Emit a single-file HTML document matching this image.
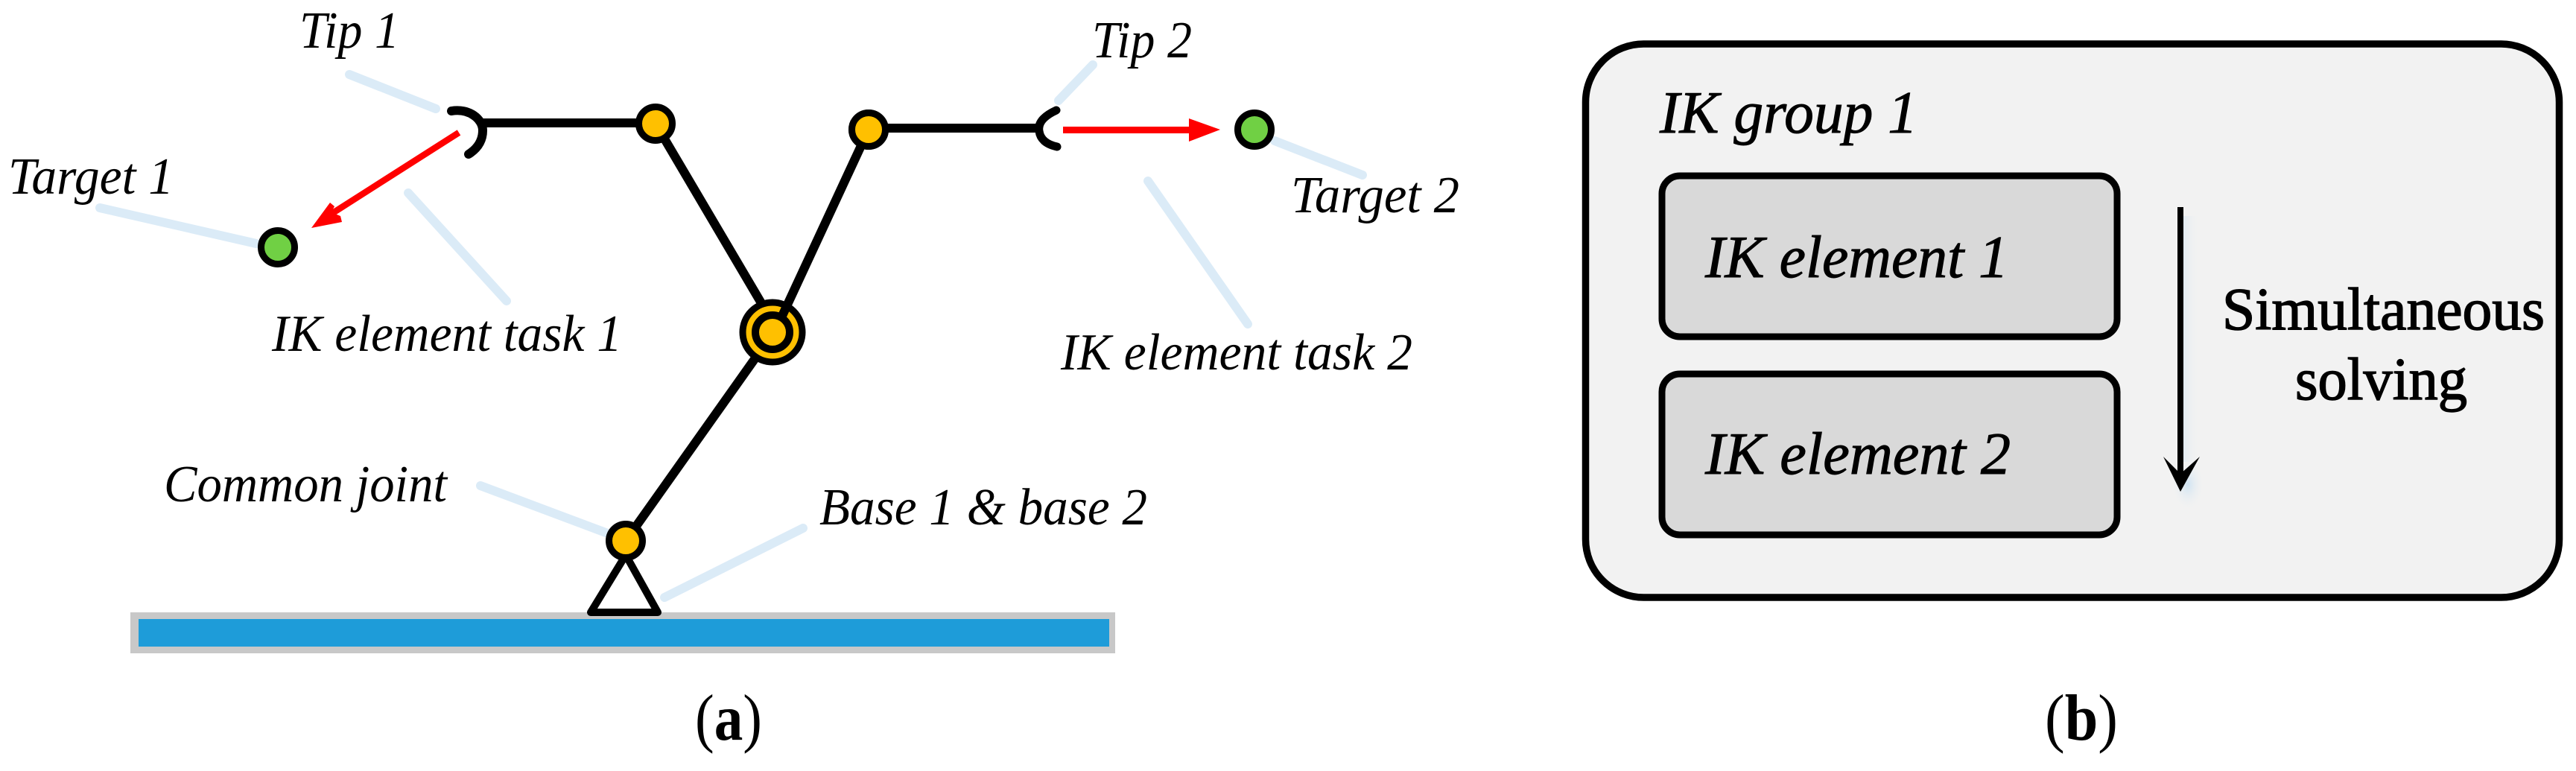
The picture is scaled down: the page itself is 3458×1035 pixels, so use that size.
<!DOCTYPE html>
<html>
<head>
<meta charset="utf-8">
<title>IK diagram</title>
<style>
html,body{margin:0;padding:0;background:#fff;width:3458px;height:1035px;overflow:hidden}
svg{display:block}
text{font-family:"Liberation Serif",serif;fill:#000}
.l{font-style:italic;font-size:70px}
.b{font-style:italic;font-size:80px;stroke:#000;stroke-width:1px}
.s{font-size:80px;stroke:#000;stroke-width:1.5px}
.c{font-size:88px}
</style>
</head>
<body>
<svg width="3458" height="1035" viewBox="0 0 3458 1035" xmlns="http://www.w3.org/2000/svg">
<defs>
<linearGradient id="sh" x1="0" x2="1" y1="0" y2="0"><stop offset="0" stop-color="#dbe8f3" stop-opacity=".7"/><stop offset="1" stop-color="#f2f2f2" stop-opacity="0"/></linearGradient>
<radialGradient id="gl"><stop offset="0" stop-color="#cfe3f3"/><stop offset="1" stop-color="#f2f2f2" stop-opacity="0"/></radialGradient>
</defs>

<!-- leaders -->
<g stroke="#dbebf7" stroke-width="12" stroke-linecap="round" fill="none">
<line x1="469" y1="100" x2="585" y2="146"/>
<line x1="134" y1="279" x2="344" y2="327"/>
<line x1="548" y1="259" x2="680" y2="404"/>
<line x1="1467" y1="87" x2="1421" y2="135"/>
<line x1="1711" y1="189" x2="1829" y2="235"/>
<line x1="1541" y1="243" x2="1675" y2="435"/>
<line x1="645" y1="652" x2="813" y2="715"/>
<line x1="1078" y1="709" x2="892" y2="802"/>
</g>

<!-- ground -->
<rect x="175" y="822" width="1322" height="55" fill="#c8c8c8"/>
<rect x="186" y="831" width="1303" height="37" fill="#1e9cd9"/>

<!-- links -->
<g stroke="#000" stroke-width="12" fill="none">
<line x1="648" y1="165" x2="880" y2="165"/>
<line x1="880" y1="166" x2="1025" y2="412"/>
<line x1="1166" y1="172" x2="1395" y2="172"/>
<line x1="1013" y1="482" x2="840" y2="726"/>
</g>

<!-- base triangle -->
<polygon points="840,745 793,822 883,822" fill="#fff" stroke="#000" stroke-width="10" stroke-linejoin="round"/>

<!-- tips -->
<path d="M606 149 C630 145 648 160 648 175 C648 190 640 200 629 207" fill="none" stroke="#000" stroke-width="12" stroke-linecap="round"/>
<path d="M1418 148 Q1392 160 1395 176 Q1397 192 1419 197" fill="none" stroke="#000" stroke-width="11" stroke-linecap="round"/>

<!-- joints -->
<g stroke="#000" stroke-width="9" fill="#ffc000">
<circle cx="880" cy="166" r="22.5"/>
<circle cx="1166" cy="174" r="22.5"/>
<circle cx="840" cy="726" r="22.5"/>
<circle cx="1037" cy="446" r="40"/>
<circle cx="1037" cy="446" r="23" stroke-width="10"/>
<circle cx="373" cy="332" r="22.5" fill="#70d044"/>
<circle cx="1684" cy="174" r="22.5" fill="#70d044"/>
</g>
<line x1="1166" y1="174" x2="1050" y2="424" stroke="#000" stroke-width="12"/>
<circle cx="1166" cy="174" r="22.5" stroke="#000" stroke-width="9" fill="#ffc000"/>

<!-- red arrows -->
<line x1="616" y1="178" x2="445" y2="287" stroke="#f00" stroke-width="8.5"/>
<polygon points="418,306 443,272 449,277 445,285 457,290 459,298" fill="#f00"/>
<rect x="1427" y="170" width="175" height="9" fill="#f00"/>
<polygon points="1638,174 1596,159 1596,190" fill="#f00"/>

<!-- labels left -->
<text class="l" x="402" y="64" textLength="134" lengthAdjust="spacingAndGlyphs">Tip 1</text>
<text class="l" x="11" y="260" textLength="222" lengthAdjust="spacingAndGlyphs">Target 1</text>
<text class="l" x="365" y="471" textLength="470" lengthAdjust="spacingAndGlyphs">IK element task 1</text>
<text class="l" x="1466" y="77" textLength="134" lengthAdjust="spacingAndGlyphs">Tip 2</text>
<text class="l" x="1733" y="285" textLength="226" lengthAdjust="spacingAndGlyphs">Target 2</text>
<text class="l" x="1424" y="496" textLength="472" lengthAdjust="spacingAndGlyphs">IK element task 2</text>
<text class="l" x="220" y="673" textLength="380" lengthAdjust="spacingAndGlyphs">Common joint</text>
<text class="l" x="1100" y="704" textLength="440" lengthAdjust="spacingAndGlyphs">Base 1 &amp; base 2</text>
<text class="c" x="933" y="993" textLength="90" lengthAdjust="spacingAndGlyphs">(<tspan font-weight="bold">a</tspan>)</text>

<!-- panel b -->
<rect x="2128.5" y="59" width="1307" height="743" rx="78" ry="78" fill="#f2f2f2" stroke="#000" stroke-width="9.5"/>
<rect x="2231" y="236" width="611" height="216" rx="24" ry="24" fill="#d9d9d9" stroke="#000" stroke-width="9"/>
<rect x="2231" y="502" width="611" height="216" rx="24" ry="24" fill="#d9d9d9" stroke="#000" stroke-width="9"/>

<rect x="2931" y="290" width="22" height="330" fill="url(#sh)"/>
<ellipse cx="2937" cy="650" rx="22" ry="36" fill="url(#gl)"/>
<line x1="2927" y1="278" x2="2927" y2="640" stroke="#000" stroke-width="8"/>
<polygon points="2927,660 2904,613 2927,636 2953,613" fill="#000"/>

<text class="b" x="2228" y="178" textLength="346" lengthAdjust="spacingAndGlyphs">IK group 1</text>
<text class="b" x="2289" y="372" textLength="407" lengthAdjust="spacingAndGlyphs">IK element 1</text>
<text class="b" x="2289" y="636" textLength="410" lengthAdjust="spacingAndGlyphs">IK element 2</text>
<text class="s" x="2983" y="442" textLength="433" lengthAdjust="spacingAndGlyphs">Simultaneous</text>
<text class="s" x="3081" y="536" textLength="231" lengthAdjust="spacingAndGlyphs">solving</text>
<text class="c" x="2745" y="993" textLength="98" lengthAdjust="spacingAndGlyphs">(<tspan font-weight="bold">b</tspan>)</text>
</svg>
</body>
</html>
